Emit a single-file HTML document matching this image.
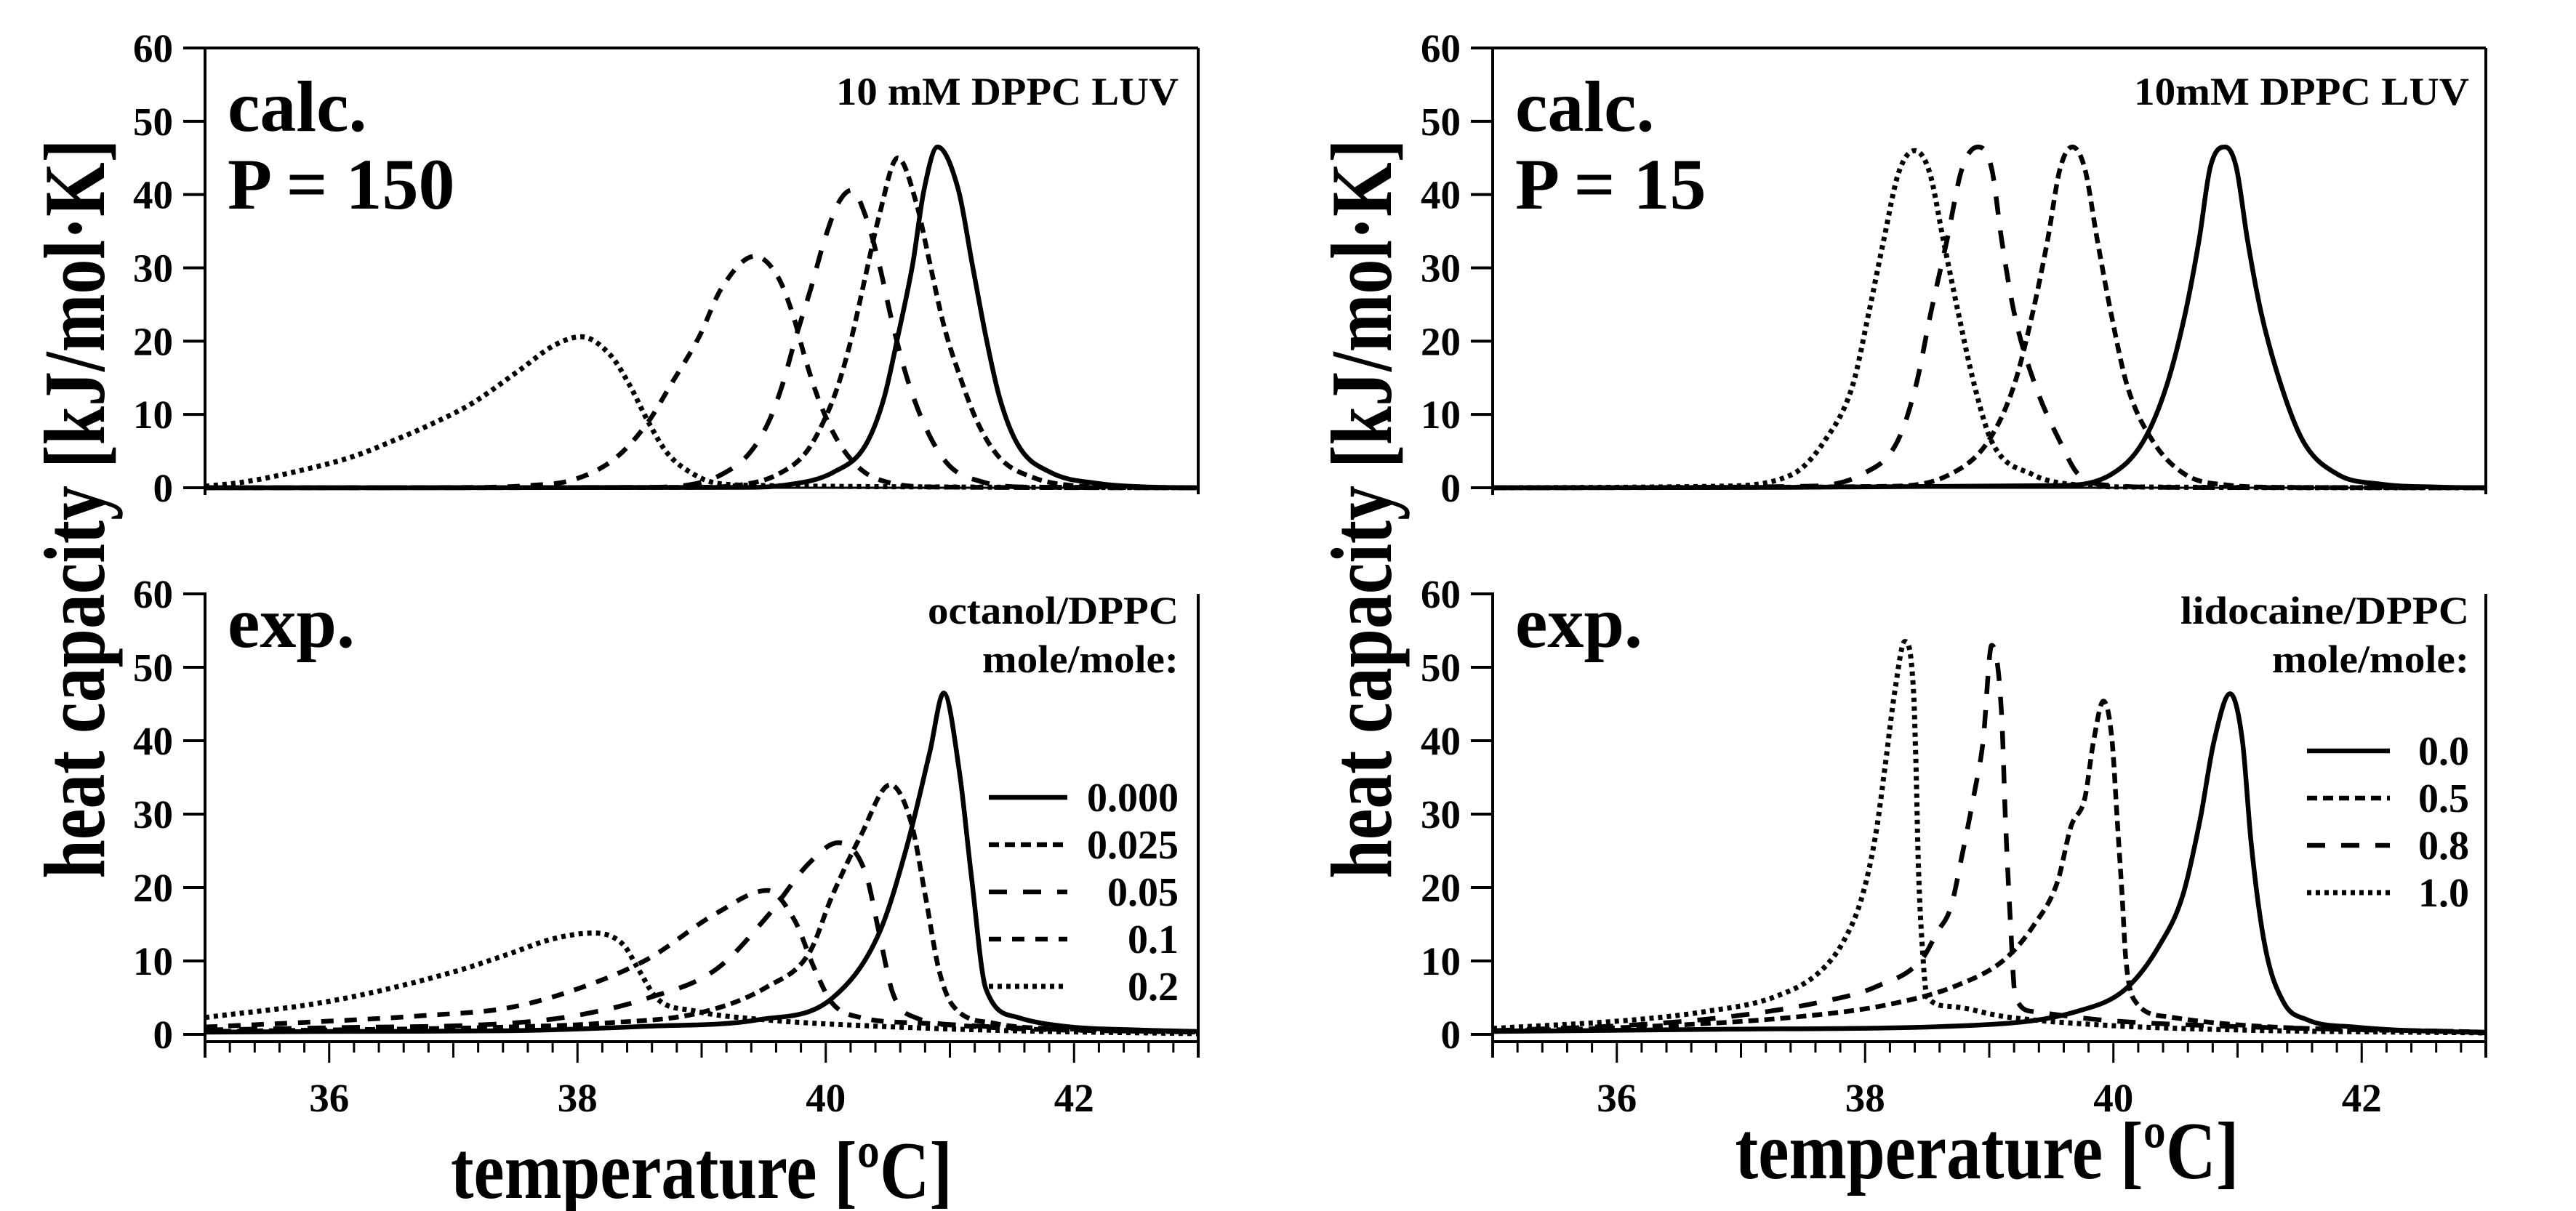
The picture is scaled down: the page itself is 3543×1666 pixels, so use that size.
<!DOCTYPE html>
<html><head><meta charset="utf-8">
<style>
html,body{margin:0;padding:0;background:#fff;}
svg{display:block;}
text{font-family:"Liberation Serif","Times New Roman",serif;font-weight:bold;fill:#000;}
</style></head>
<body>
<svg id="fig" width="3543" height="1666" viewBox="0 0 3543 1666" xmlns="http://www.w3.org/2000/svg">
<rect width="3543" height="1666" fill="#fff"/>
<g id="layer"></g>
</svg>
<script>
// ---------- data ----------
const tickLabelsY = [0,10,20,30,40,50,60];
const tickLabelsX = [36,38,40,42];

// top-left: calc. P = 150
const tlT0 = [35,39.3,39.69,40.06,40.32,40.47,40.58,40.7,40.79,40.9,41.07,41.18,41.29,41.4,41.55,41.81,42.19,42.6,43];
const tlC0 = [0,0.05,0.4,2.1,5.8,12.3,20.6,30.5,40.5,46.5,40.5,30.5,20.6,12.3,5.8,2.1,0.6,0.1,0];
const tlT1 = [35,38.9,39.32,39.61,39.84,39.99,40.1,40.21,40.32,40.43,40.58,40.73,40.84,40.95,41.07,41.22,41.4,41.67,41.99,42.5,43];
const tlC1 = [0,0.05,0.4,1.8,4.8,9.3,14,20.6,28.9,37.1,45,38.8,30.5,22.2,15.7,9,4.1,1.4,0.3,0.05,0];
const tlT2 = [35,38.5,38.9,39.16,39.39,39.54,39.65,39.76,39.88,39.99,40.1,40.21,40.32,40.43,40.54,40.66,40.81,40.99,41.26,41.6,43];
const tlC2 = [0,0.05,0.4,1.8,4.8,9,14,20.6,27.2,33.8,38.8,40.6,37.1,30.5,22.2,14.7,8,3.1,0.8,0.1,0];
const tlT3 = [35,37.2,37.6,37.97,38.31,38.57,38.75,38.98,39.16,39.43,39.61,39.73,39.84,39.95,40.1,40.29,40.51,40.9,43];
const tlC3 = [0,0.05,0.3,1.1,4.1,9,14,20.6,27.2,31.6,28.9,23.9,17.3,11.7,6.3,2.4,0.7,0.1,0];
const tlT4 = [35,35.32,35.88,36.2,36.57,36.8,37.15,37.53,37.82,38.03,38.27,38.42,38.57,38.72,38.94,39.13,39.5,40,41,43];
const tlC4 = [0.2,0.8,2.8,4.3,6.8,8.5,11.5,16,19.5,20.6,18,14,9,4.8,1.8,0.6,0.3,0.2,0.1,0];

// bottom-left: exp. octanol
const blT0 = [35,36,37.44,38.56,39.46,40.05,40.43,40.65,40.84,40.95,41.08,41.17,41.29,41.55,41.92,42.5,43];
const blC0 = [0.3,0.4,0.5,1.1,2.0,4.9,13.8,25.4,38.6,46.5,35.3,22,6.2,2.3,1.1,0.6,0.4];
const blT1 = [35,36,37.44,38.19,39.0,39.53,39.87,40.05,40.28,40.52,40.69,40.8,40.91,41.02,41.36,42,43];
const blC1 = [0.4,0.6,1.0,1.5,3,6.5,11.2,18.8,27,34,28.7,19.1,8.9,4,1.5,0.7,0.3];
const blT2 = [35,36,37.44,38.0,38.56,39.12,39.53,39.87,40.1,40.32,40.43,40.54,40.72,41.17,42,43];
const blC2 = [0.6,0.9,1.5,2.6,4.9,8.9,16.1,23.4,26.1,22,13.8,5.6,2.3,1.2,0.6,0.3];
const blT3 = [35,36,36.8,37.44,38.0,38.56,39.12,39.53,39.75,39.91,40.05,40.28,40.8,41.5,43];
const blC3 = [1.0,1.8,2.6,3.6,6.2,10.2,16.5,19.6,15.5,8.9,4.3,2.3,1.5,0.8,0.3];
const blT4 = [35,36,37,37.44,37.8,38.13,38.37,38.49,38.64,38.94,39.5,40.43,41.5,43];
const blC4 = [2.3,4.5,8.5,10.9,13,13.8,12.2,8.9,4.9,3.2,2.0,1.1,0.5,0.1];

// top-right: calc. P = 15
const trT0 = [35,39.53,39.98,40.24,40.43,40.58,40.69,40.78,40.9,40.99,41.08,41.19,41.35,41.53,41.81,42.15,42.6,43];
const trC0 = [0,0.3,1.8,6.3,14,23.9,33.8,43.7,46.5,43.7,33.8,23.9,14,6.3,1.8,0.5,0.1,0];
const trT1 = [35,38.2,38.68,38.99,39.2,39.35,39.47,39.57,39.67,39.77,39.87,39.98,40.11,40.32,40.58,40.9,41.4,43];
const trC1 = [0,0.2,1.8,6.3,14,23.9,33.8,43.5,46.5,43.5,33.8,23.9,14,6.3,1.8,0.4,0.05,0];
const trT2 = [35,37.5,37.97,38.26,38.41,38.53,38.66,38.78,38.91,39.02,39.1,39.2,39.37,39.57,39.72,40.0,40.5,43];
const trC2 = [0,0.2,1.8,6.3,14,23.9,33.8,43.5,46.5,43.5,33.8,23.9,14,6.3,1.8,0.3,0.05,0];
const trT3 = [35,36.8,37.41,37.67,37.9,38.03,38.15,38.27,38.4,38.52,38.63,38.75,38.88,39.02,39.35,39.7,40.2,43];
const trC3 = [0,0.2,1.8,6.3,14,23.9,33.8,43,46,43,33.8,23.9,14,6.3,1.8,0.4,0.1,0];

// bottom-right: exp. lidocaine
const brT0 = [35,36.9,38.95,39.7,40.1,40.37,40.56,40.7,40.81,40.94,41.04,41.11,41.22,41.37,41.56,41.94,43];
const brC0 = [0.4,0.7,1.3,3.1,6.2,12.1,19,29.4,39.9,46.4,39.9,26,12.1,4.4,2.0,1.0,0.2];
const brT1 = [35,36.15,37.46,38.2,38.76,39.13,39.36,39.55,39.66,39.77,39.84,39.92,39.99,40.03,40.07,40.1,40.18,40.44,41,43];
const brC1 = [0.4,1.0,2.4,4.1,6.8,10.3,14.9,20.8,28.4,32.2,39.9,45.4,39.9,29.4,19,10.3,4.4,2.4,1.3,0.3];
const brT2 = [35,36.15,36.9,37.64,38.09,38.46,38.58,38.69,38.78,38.88,38.95,39.02,39.1,39.13,39.17,39.21,39.36,39.88,40.6,43];
const brC2 = [0.5,1.3,2.4,4.4,6.5,10.3,13.9,17.3,24.3,32.9,39.9,53,43.4,29.4,15.5,5.1,3.1,2.0,1.3,0.3];
const brT3 = [35,36.15,36.71,37.27,37.64,37.83,37.98,38.09,38.16,38.24,38.32,38.39,38.41,38.43,38.46,38.5,38.69,39.13,39.88,41,43];
const brC3 = [0.8,2.0,3.1,5.1,8.6,12.8,19,27.7,36.4,46.8,53.5,46.8,36.4,22.5,12.1,5.1,3.8,2.4,1.3,0.6,0.2];

const octanolLegend = ["0.000","0.025","0.05","0.1","0.2"];
const lidocaineLegend = ["0.0","0.5","0.8","1.0"];

// ---------- drawing ----------
const NS = "http://www.w3.org/2000/svg";
const layer = document.getElementById("layer");
const STY = {
  solid:{w:6.5,d:""},
  short:{w:6.5,d:"14 8"},
  long:{w:6.5,d:"25 22"},
  med:{w:6.5,d:"17 15"},
  dot:{w:7,d:"6 6"}
};
function mk(tag, attrs){
  const e = document.createElementNS(NS, tag);
  for (const k in attrs) e.setAttribute(k, attrs[k]);
  layer.appendChild(e);
  return e;
}
function mkPanel(x0,x1,y0,y60){
  return {x0,x1,y0,y60,
    sx:T=>x0+(T-35)*(x1-x0)/8,
    sy:C=>y0-C*(y0-y60)/60};
}
function monoPath(px,py){
  const n=px.length, d=[], m=new Array(n);
  for(let i=0;i<n-1;i++) d.push((py[i+1]-py[i])/(px[i+1]-px[i]));
  m[0]=d[0]; m[n-1]=d[n-2];
  for(let i=1;i<n-1;i++){
    if(d[i-1]*d[i]<=0) m[i]=0;
    else { m[i]=(d[i-1]+d[i])/2; }
  }
  for(let i=0;i<n-1;i++){
    if(d[i]===0){m[i]=0;m[i+1]=0;continue;}
    const a=m[i]/d[i], b=m[i+1]/d[i], s=a*a+b*b;
    if(s>9){const t=3/Math.sqrt(s); m[i]=t*a*d[i]; m[i+1]=t*b*d[i];}
  }
  let s="M"+px[0].toFixed(1)+","+py[0].toFixed(1);
  for(let i=0;i<n-1;i++){
    const h=(px[i+1]-px[i])/3;
    s+=" C"+(px[i]+h).toFixed(1)+","+(py[i]+m[i]*h).toFixed(1)+" "+(px[i+1]-h).toFixed(1)+","+(py[i+1]-m[i+1]*h).toFixed(1)+" "+px[i+1].toFixed(1)+","+py[i+1].toFixed(1);
  }
  return s;
}
function curve(P, Ts, Cs, style, name){
  const p = mk("path",{d:monoPath(Ts.map(P.sx),Cs.map(P.sy)),fill:"none",stroke:"#000","stroke-width":STY[style].w,"stroke-dasharray":STY[style].d,"stroke-linejoin":"round"});
  
  
}
function line(x1,y1,x2,y2,w,name){
  const l = mk("line",{x1,y1,x2,y2,stroke:"#000","stroke-width":w});
  
  
  return l;
}
function txt(x,y,s,size,anchor,name,extra){
  const t = mk("text",Object.assign({x,y,"font-size":size,"text-anchor":anchor},extra||{}));
  t.textContent = s;
  
  
  return t;
}
function axesY(P, bottomExt, name){
  line(P.x0,P.y60-2,P.x0,bottomExt,4,name+"-y-axis");
  tickLabelsY.forEach(v=>{
    const y=P.sy(v);
    line(P.x0-30,y,P.x0,y,4,name+"-y-tick");
    txt(P.x0-44,y+19,String(v),55,"end",name+"-y-tick-label");
  });
}
function axesX(P, yAx, name){
  line(P.x0,yAx,P.x1,yAx,4,name+"-x-axis");
  for(let k=0;k<=40;k++){
    const T=35+k*0.2, x=P.sx(T);
    const isInt = k%5===0, even = isInt && (Math.round(T)%2===0);
    const len = even?29:(isInt?22:15);
    line(x,yAx,x,yAx+len,3,name+"-x-tick");
  }
  tickLabelsX.forEach(v=>{
    txt(P.sx(v),yAx+96,String(v),55,"middle",name+"-x-tick-label");
  });
}

const TL = mkPanel(282,1648,671,66);
const BL = mkPanel(282,1648,1423,817);
const TR = mkPanel(2053,3419,671,66);
const BR = mkPanel(2053,3419,1423,817);

// frames
[[TL,"top-left"],[TR,"top-right"]].forEach(([P,n])=>{
  axesY(P,P.y0+10,n);
  line(P.x0,P.y60,P.x1,P.y60,4,n+"-top-spine");
  line(P.x1,P.y60,P.x1,P.y0+9,4,n+"-right-spine");
  line(P.x0,P.y0,P.x1,P.y0,3,n+"-baseline");
});
[[BL,"bottom-left"],[BR,"bottom-right"]].forEach(([P,n])=>{
  axesY(P,1455,n);
  axesX(P,1433,n);
  line(P.x1,P.y60,P.x1,1455,4,n+"-right-spine");
});

// curves
curve(TL,tlT4,tlC4,"dot","calc150-0.2");
curve(TL,tlT3,tlC3,"med","calc150-0.1");
curve(TL,tlT2,tlC2,"long","calc150-0.05");
curve(TL,tlT1,tlC1,"short","calc150-0.025");
curve(TL,tlT0,tlC0,"solid","calc150-0.000");

curve(BL,blT4,blC4,"dot","octanol-0.2");
curve(BL,blT3,blC3,"med","octanol-0.1");
curve(BL,blT2,blC2,"long","octanol-0.05");
curve(BL,blT1,blC1,"short","octanol-0.025");
curve(BL,blT0,blC0,"solid","octanol-0.000");

curve(TR,trT3,trC3,"dot","calc15-1.0");
curve(TR,trT2,trC2,"long","calc15-0.8");
curve(TR,trT1,trC1,"short","calc15-0.5");
curve(TR,trT0,trC0,"solid","calc15-0.0");

curve(BR,brT3,brC3,"dot","lidocaine-1.0");
curve(BR,brT2,brC2,"long","lidocaine-0.8");
curve(BR,brT1,brC1,"short","lidocaine-0.5");
curve(BR,brT0,brC0,"solid","lidocaine-0.0");

// panel annotations
txt(313,180,"calc.",100,"start","calc-label-left");
txt(313,287,"P = 150",100,"start","p150-label");
txt(2084,180,"calc.",100,"start","calc-label-right");
txt(2084,287,"P = 15",100,"start","p15-label");
txt(313,890,"exp.",100,"start","exp-label-left");
txt(2084,890,"exp.",100,"start","exp-label-right");
txt(1621,144,"10 mM DPPC LUV",54,"end","sample-label-left",{textLength:471,lengthAdjust:"spacingAndGlyphs"});
txt(3396,144,"10mM DPPC LUV",54,"end","sample-label-right",{textLength:461,lengthAdjust:"spacingAndGlyphs"});
txt(1621,858,"octanol/DPPC",54,"end","legend-title-octanol",{textLength:345,lengthAdjust:"spacingAndGlyphs"});
txt(1621,925,"mole/mole:",54,"end","legend-unit-left",{textLength:270,lengthAdjust:"spacingAndGlyphs"});
txt(3396,858,"lidocaine/DPPC",54,"end","legend-title-lidocaine",{textLength:397,lengthAdjust:"spacingAndGlyphs"});
txt(3396,925,"mole/mole:",54,"end","legend-unit-right",{textLength:271,lengthAdjust:"spacingAndGlyphs"});

// legends
const octStyles=["solid","short","long","med","dot"];
octanolLegend.forEach((lab,i)=>{
  const y=1097+i*65;
  const l=line(1360,y,1468,y,STY[octStyles[i]].w,"legend-line-octanol");
  if(STY[octStyles[i]].d) l.setAttribute("stroke-dasharray",STY[octStyles[i]].d);
  txt(1621,y+19,lab,56,"end","legend-entry-octanol");
});
const lidStyles=["solid","short","long","dot"];
lidocaineLegend.forEach((lab,i)=>{
  const y=1033+i*65;
  const l=line(3173,y,3287,y,STY[lidStyles[i]].w,"legend-line-lidocaine");
  if(STY[lidStyles[i]].d) l.setAttribute("stroke-dasharray",STY[lidStyles[i]].d);
  txt(3396,y+19,lab,56,"end","legend-entry-lidocaine");
});

// axis titles
txt(0,0,"heat capacity [kJ/mol\u00B7K]",120,"middle","y-axis-title-left",{transform:"translate(143,700) rotate(-90)",textLength:1017,lengthAdjust:"spacingAndGlyphs"});
txt(0,0,"heat capacity [kJ/mol\u00B7K]",120,"middle","y-axis-title-right",{transform:"translate(1913,700) rotate(-90)",textLength:1017,lengthAdjust:"spacingAndGlyphs"});
txt(965,1648,"temperature [\u00BAC]",112,"middle","x-axis-title-left",{textLength:690,lengthAdjust:"spacingAndGlyphs"});
txt(2733,1621,"temperature [\u00BAC]",112,"middle","x-axis-title-right",{textLength:693,lengthAdjust:"spacingAndGlyphs"});
</script>
</body></html>
